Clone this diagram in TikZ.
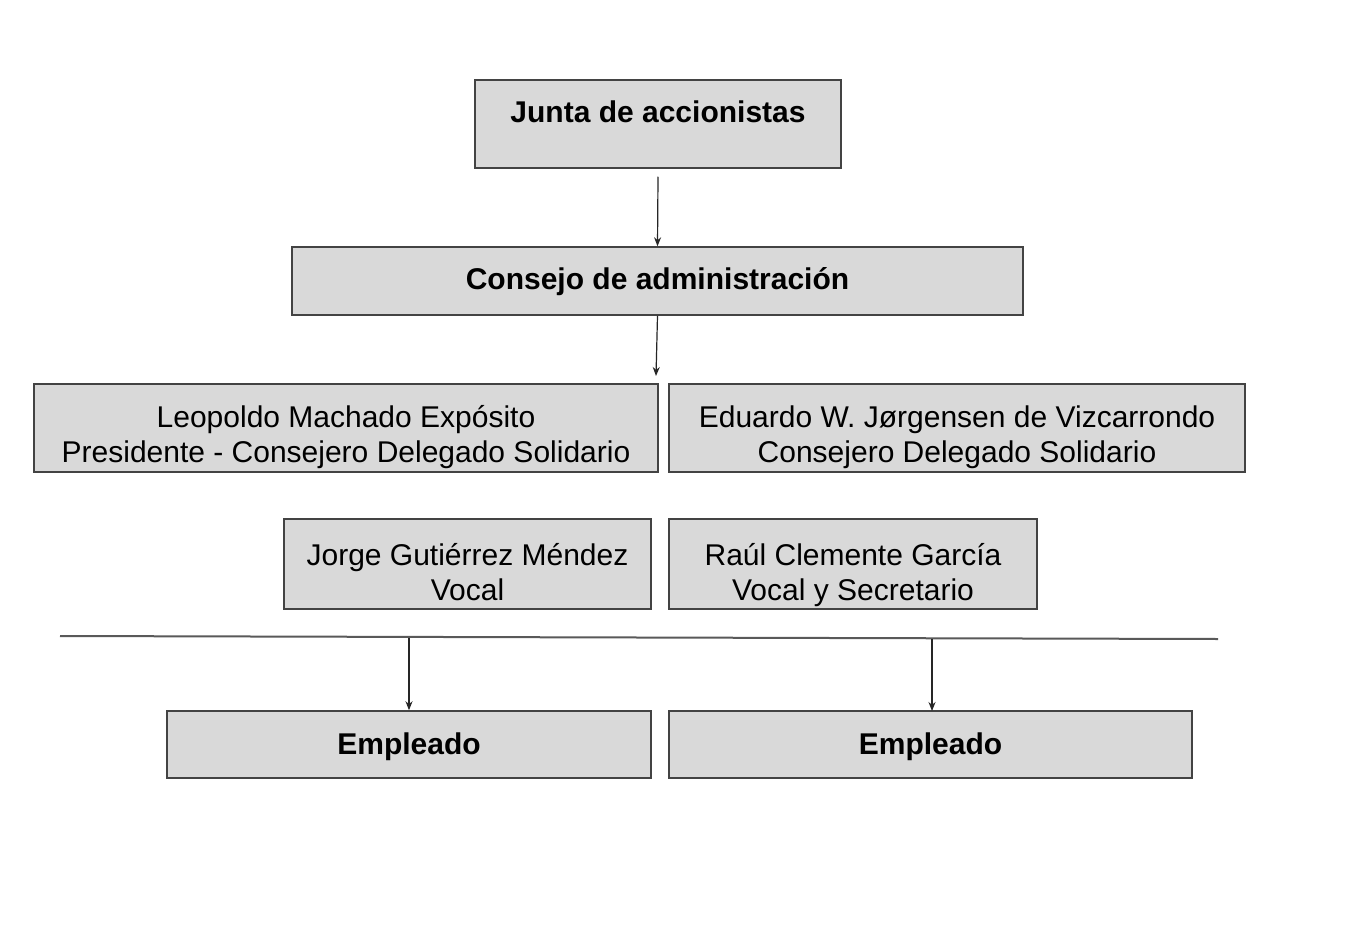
\documentclass[tikz,border=0pt]{standalone}
\usepackage{fontspec}
\setmainfont{Liberation Sans}
\usetikzlibrary{arrows.meta}
\definecolor{boxfill}{HTML}{D9D9D9}
\definecolor{boxline}{HTML}{434343}
\begin{document}
\begin{tikzpicture}[x=1pt,y=-1pt,
  orgbox/.style={draw=boxline, fill=boxfill, line width=1.5pt, inner sep=0pt, rectangle},
  lbl/.style={anchor=base, inner sep=0pt, font=\fontsize{30}{35}\selectfont},
  blbl/.style={anchor=base, inner sep=0pt, font=\fontsize{30}{35}\selectfont\bfseries},
  arr/.style={draw=black!85, line width=1.2pt, -{Stealth[length=9pt,width=7pt]}},
  rule/.style={draw=black!65, line width=2pt}]
\fill[white] (0,0) rectangle (1356,928);
\useasboundingbox (0,0) rectangle (1356,928);

% boxes
\node[orgbox, minimum width=366pt, minimum height=88pt] (junta) at (658,124) {};
\node[orgbox, minimum width=731pt, minimum height=68pt] (consejo) at (657.5,281) {};
\node[orgbox, minimum width=624pt, minimum height=88pt] (leo) at (346,428) {};
\node[orgbox, minimum width=576pt, minimum height=88pt] (edu) at (957,428) {};
\node[orgbox, minimum width=367pt, minimum height=90pt] (jorge) at (467.5,564) {};
\node[orgbox, minimum width=368pt, minimum height=90pt] (raul) at (853,564) {};
\node[orgbox, minimum width=484pt, minimum height=67pt] (emp1) at (409,744.5) {};
\node[orgbox, minimum width=523pt, minimum height=67pt] (emp2) at (930.5,744.5) {};

% texts
\node[blbl] (juntaT) at (658,123) {Junta de accionistas};
\node[blbl] (consejoT) at (657.5,289) {Consejo de administración};
\node[lbl] (leoA) at (346,427) {Leopoldo Machado Expósito};
\node[lbl] (leoB) at (346,462) {Presidente - Consejero Delegado Solidario};
\node[lbl] (eduA) at (957,427) {Eduardo W. Jørgensen de Vizcarrondo};
\node[lbl] (eduB) at (957,462) {Consejero Delegado Solidario};
\node[lbl] (jorgeA) at (467.5,565) {Jorge Gutiérrez Méndez};
\node[lbl] (jorgeB) at (467.5,600) {Vocal};
\node[lbl] (raulA) at (853,565) {Raúl Clemente García};
\node[lbl] (raulB) at (853,600) {Vocal y Secretario};
\node[blbl] (emp1T) at (409,754) {Empleado};
\node[blbl] (emp2T) at (930.5,754) {Empleado};

% connectors
\coordinate (board) at (656,376);
\coordinate (lineL) at (60,636);
\coordinate (lineR) at (1218,639);
\coordinate (drop1) at (409,638);
\coordinate (drop2) at (932,639);
\coordinate (emp2top) at (932,711);

\draw[arr] ([yshift=-8pt]junta.south) -- (consejo.north);
\draw[arr] (consejo.south) -- (board);
\draw[rule] (lineL) -- (lineR);
\draw[arr] (drop1) -- (emp1.north);
\draw[arr] (drop2) -- (emp2top);
\end{tikzpicture}
\end{document}
